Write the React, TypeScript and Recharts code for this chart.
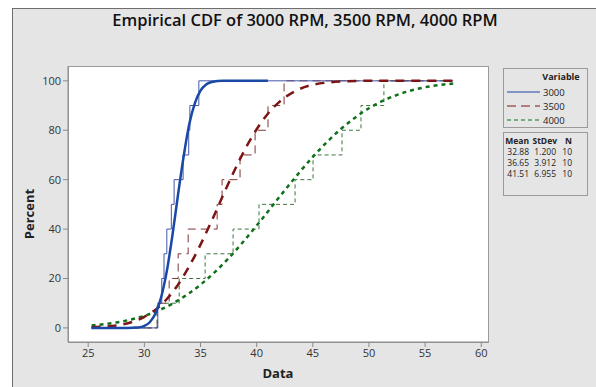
import React from 'react';
import { LineChart, Line, XAxis, YAxis } from 'recharts';

const percentLevels = [10, 20, 30, 40, 50, 60, 70, 80, 90, 100];
const rpm3000 = [31.2, 31.55, 31.75, 32.0, 32.4, 32.65, 33.45, 33.95, 34.05, 34.85];
const rpm3500 = [31.14, 32.21, 33.01, 33.9, 36.48, 36.92, 38.52, 39.86, 41.01, 42.44];
const rpm4000 = [31.14, 33.1, 35.41, 37.9, 40.21, 43.42, 45.02, 47.6, 49.29, 51.33];
const xStart = 25.3;
const xEnd = 57.5;

// fitted curves
const fit3000X = [25.3, 28, 29, 29.5, 30, 30.5, 31, 31.5, 32, 32.5, 33, 33.5, 34, 34.5, 35, 35.5, 36, 37, 38, 41];
const fit3000Pct = [0, 0, 0.1, 0.2, 0.8, 2.4, 5.9, 12.5, 23, 37.5, 54, 69.5, 82.5, 91, 96, 98.5, 99.5, 100, 100, 100];
const fit3500X = [25.3, 27.5, 30, 31, 32, 33, 34, 35, 36, 37, 38, 39, 40, 41, 42, 43.5, 45, 47.5, 50, 57.5];
const fit3500Pct = [0.3, 1, 4.5, 7.4, 11.7, 17.5, 25, 33.7, 43.4, 53.6, 63.5, 72.6, 80.4, 86.7, 91.4, 96, 98.4, 99.7, 100, 100];
const fit4000X = [25.3, 27.5, 30, 32.5, 35, 37.5, 40, 42.5, 45, 47.5, 50, 52.5, 55, 57.5];
const fit4000Pct = [1, 2.2, 4.9, 9.8, 17.5, 28.2, 41.4, 55.7, 69.2, 80.5, 88.9, 94.3, 97.4, 98.9];

const xTicks = [25, 30, 35, 40, 45, 50, 55, 60];
const yTicks = [0, 20, 40, 60, 80, 100];

const seriesNames = ['3000', '3500', '4000'];
const means = ['32.88', '36.65', '41.51'];
const stDevs = ['1.200', '3.912', '6.955'];
const counts = ['10', '10', '10'];

const toSteps = (vals: number[]) => [
  { x: xStart, y: 0 },
  ...vals.map((v, i) => ({ x: v, y: percentLevels[i] })),
  { x: xEnd, y: 100 },
];
const toCurve = (xs: number[], ps: number[]) => xs.map((x, i) => ({ x, y: ps[i] }));

const font = '"Open Sans", "DejaVu Sans", sans-serif';

const colors = {
  blue: '#1a48a6', blueStep: '#4358a8',
  red: '#7d1515', redStep: '#7f3535',
  green: '#11701a', greenStep: '#3f743f',
};

export default function App() {
  const legendStyles = [
    { stroke: colors.blue, dash: undefined },
    { stroke: colors.red, dash: '9 5' },
    { stroke: colors.green, dash: '4 3' },
  ];
  return (
    <div style={{ position: 'absolute', left: 0, top: 0, width: 596, height: 387, background: '#fff', overflow: 'hidden' }}>
      <div style={{ position: 'absolute', left: 12, top: 8, width: 584, height: 379, background: '#e5e5e5', borderLeft: '1px solid #6e6e6e', borderTop: '1px solid #6e6e6e', boxSizing: 'border-box' }} />
      <div style={{ position: 'absolute', left: 68, top: 66, width: 421, height: 277, background: '#fff', border: '1px solid #9a9a9a', boxSizing: 'border-box' }} />
      <div style={{ position: 'absolute', left: 0, top: 0 }}>
        <LineChart width={596} height={387} margin={{ top: 66, right: 108, bottom: 0, left: 28 }}>
          <XAxis type="number" dataKey="x" domain={[23.2, 60.6]} ticks={xTicks} allowDataOverflow
            stroke="#8a8a8a" tickSize={5} tickMargin={2} height={45}
            tick={{ fill: '#333', fontSize: 11, fontFamily: font }} />
          <YAxis type="number" dataKey="y" domain={[-5.7, 106]} ticks={yTicks} allowDataOverflow
            stroke="#8a8a8a" tickSize={5} tickMargin={2} width={40}
            tick={{ fill: '#333', fontSize: 11, fontFamily: font }} />
          <Line data={toSteps(rpm4000)} dataKey="y" type="stepAfter" stroke={colors.greenStep} strokeWidth={1} strokeDasharray="4 3" dot={false} isAnimationActive={false} />
          <Line data={toSteps(rpm3500)} dataKey="y" type="stepAfter" stroke={colors.redStep} strokeWidth={1} strokeDasharray="8 5" dot={false} isAnimationActive={false} />
          <Line data={toSteps(rpm3000)} dataKey="y" type="stepAfter" stroke={colors.blueStep} strokeWidth={1} dot={false} isAnimationActive={false} />
          <Line data={toCurve(fit4000X, fit4000Pct)} dataKey="y" type="monotone" stroke={colors.green} strokeWidth={2.5} strokeDasharray="4 4" dot={false} isAnimationActive={false} />
          <Line data={toCurve(fit3500X, fit3500Pct)} dataKey="y" type="monotone" stroke={colors.red} strokeWidth={2.5} strokeDasharray="9 7" dot={false} isAnimationActive={false} />
          <Line data={toCurve(fit3000X, fit3000Pct)} dataKey="y" type="monotone" stroke={colors.blue} strokeWidth={2.5} dot={false} isAnimationActive={false} />
        </LineChart>
      </div>
      <svg width={596} height={387} style={{ position: 'absolute', left: 0, top: 0, pointerEvents: 'none' }} fontFamily={font}>
        <text x={305} y={26} textAnchor="middle" fontSize={16.5} fontWeight={600} fill="#111">
          Empirical CDF of 3000 RPM, 3500 RPM, 4000 RPM
        </text>
        <text x={278} y={378} textAnchor="middle" fontSize={13} fontWeight={700} fill="#222">Data</text>
        <text x={0} y={0} transform="translate(34,214) rotate(-90)" textAnchor="middle" fontSize={13} fontWeight={700} fill="#222">Percent</text>

        <rect x={503.5} y={68.5} width={84} height={59} fill="none" stroke="#9a9a9a" />
        <text x={561} y={80} textAnchor="middle" fontSize={9} fontWeight={700} fill="#222">Variable</text>
        {seriesNames.map((name, i) => {
          const y = 92 + i * 14;
          return (
            <g key={name}>
              <line x1={507} x2={540} y1={y} y2={y} stroke={legendStyles[i].stroke} strokeWidth={1.2} strokeDasharray={legendStyles[i].dash} />
              <text x={543} y={y + 3.5} fontSize={9.5} fill="#222">{name}</text>
            </g>
          );
        })}

        <rect x={503.5} y={132.5} width={84} height={63} fill="none" stroke="#9a9a9a" />
        {['Mean', 'StDev', 'N'].map((h, j) => (
          <text key={h} x={[529, 557, 572][j]} y={144} textAnchor="end" fontSize={8.5} fontWeight={700} fill="#222">{h}</text>
        ))}
        {means.map((m, i) => {
          const y = 155 + i * 11;
          return (
            <g key={m} fontSize={8.5} fill="#222">
              <text x={529} y={y} textAnchor="end">{m}</text>
              <text x={556} y={y} textAnchor="end">{stDevs[i]}</text>
              <text x={572} y={y} textAnchor="end">{counts[i]}</text>
            </g>
          );
        })}
      </svg>
    </div>
  );
}
